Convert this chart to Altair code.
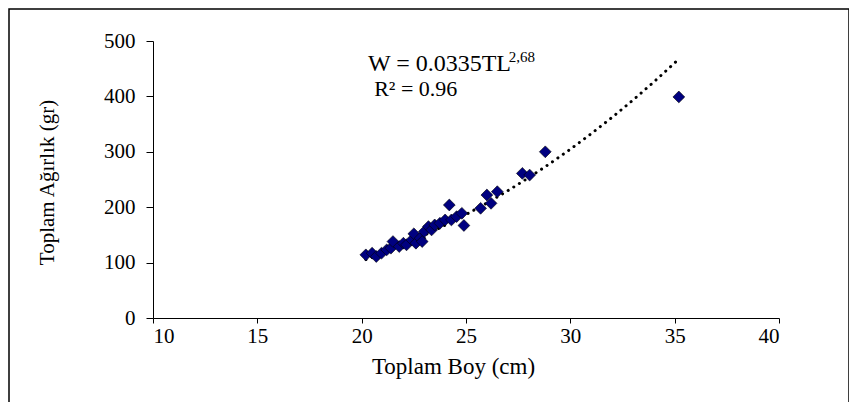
import altair as alt
import pandas as pd

# Scatter data
boy = [20.2, 20.5, 20.7, 20.95, 21.2, 21.4, 21.5, 21.8, 22.0, 22.15, 22.4, 22.5,
       22.6, 22.8, 22.9, 23.0, 23.2, 23.35, 23.5, 23.75, 24.0, 24.2, 24.3, 24.55,
       24.8, 24.9, 25.7, 26.0, 26.2, 26.5, 27.7, 28.05, 28.8, 35.2]
agirlik = [114, 117, 111, 117, 123, 126, 138, 129, 135, 132, 141, 152,
           135, 144, 138, 156, 165, 159, 168, 171, 177, 204, 177, 183,
           189, 167, 198, 222, 207, 228, 261, 258, 300, 399]

# Power trendline W = a * TL^b (coefficients printed on the chart)
coef_a = 0.0335
coef_b = 2.68
trend_x = [20.2, 21, 22, 23, 24, 25, 26, 27, 28, 29, 30, 31, 32, 33, 34, 35, 35.2]

x_ticks = [10, 15, 20, 25, 30, 35, 40]
y_ticks = [0, 100, 200, 300, 400, 500]

FONT = "Liberation Serif"

df = pd.DataFrame({"boy": boy, "agirlik": agirlik})
tdf = pd.DataFrame({"boy": trend_x})

xs = alt.Scale(domain=[10, 40], nice=False, zero=False)
ys = alt.Scale(domain=[0, 500], nice=False)

xax = alt.Axis(values=x_ticks, title="Toplam Boy (cm)", grid=False, tickSize=5,
               labelFont=FONT, labelFontSize=21, labelPadding=2, labelColor="black",
               titleFont=FONT, titleFontSize=23, titleFontWeight="normal",
               titleColor="black", titleBaseline="middle", titleAlign="center",
               titleX=300, titleY=48,
               domainColor="black", tickColor="black")
yax = alt.Axis(values=y_ticks, title="Toplam Ağırlık (gr)", grid=False, tickSize=7,
               labelFont=FONT, labelFontSize=21, labelPadding=11, labelColor="black",
               titleFont=FONT, titleFontSize=21, titleFontWeight="normal",
               titleColor="black", titleBaseline="middle", titleX=-106, titleY=141,
               domainColor="black", tickColor="black")

frame = alt.Chart(pd.DataFrame({"k": [0]})).mark_rect(
    fill="transparent", stroke="black", strokeWidth=1.5
).encode(x=alt.value(-144), x2=alt.value(696), y=alt.value(-32), y2=alt.value(362))

trend = alt.Chart(tdf).transform_calculate(
    w=f"{coef_a} * pow(datum.boy, {coef_b})"
).mark_line(color="black", strokeWidth=3, strokeDash=[0.1, 6.5], strokeCap="round").encode(
    x=alt.X("boy:Q", scale=xs, axis=xax),
    y=alt.Y("w:Q", scale=ys, axis=yax),
)

points = alt.Chart(df).mark_point(
    shape="diamond", filled=True, fill="#000080", stroke="black",
    strokeWidth=0.6, size=140, opacity=1
).encode(
    x=alt.X("boy:Q", scale=xs),
    y=alt.Y("agirlik:Q", scale=ys),
)

eq_main = alt.Chart(pd.DataFrame({"x": [20.3], "y": [458], "t": ["W = 0.0335TL"]})).mark_text(
    align="left", baseline="middle", font=FONT, fontSize=24, color="black"
).encode(x=alt.X("x:Q", scale=xs), y=alt.Y("y:Q", scale=ys), text="t:N")

eq_sup = alt.Chart(pd.DataFrame({"x": [27.05], "y": [471], "t": ["2,68"]})).mark_text(
    align="left", baseline="middle", font=FONT, fontSize=15, color="black"
).encode(x=alt.X("x:Q", scale=xs), y=alt.Y("y:Q", scale=ys), text="t:N")

eq_r2 = alt.Chart(pd.DataFrame({"x": [20.6], "y": [413], "t": ["R² = 0.96"]})).mark_text(
    align="left", baseline="middle", font=FONT, fontSize=22, color="black"
).encode(x=alt.X("x:Q", scale=xs), y=alt.Y("y:Q", scale=ys), text="t:N")

chart = alt.layer(frame, trend, points, eq_main, eq_sup, eq_r2).properties(
    width=626, height=277,
    autosize=alt.AutoSizeParams(type="none"),
    padding={"left": 145, "top": 33, "right": 70, "bottom": 84},
    background="white",
).configure_view(stroke=None)

chart.save("out.html", embed_options={"renderer": "svg", "actions": False})
